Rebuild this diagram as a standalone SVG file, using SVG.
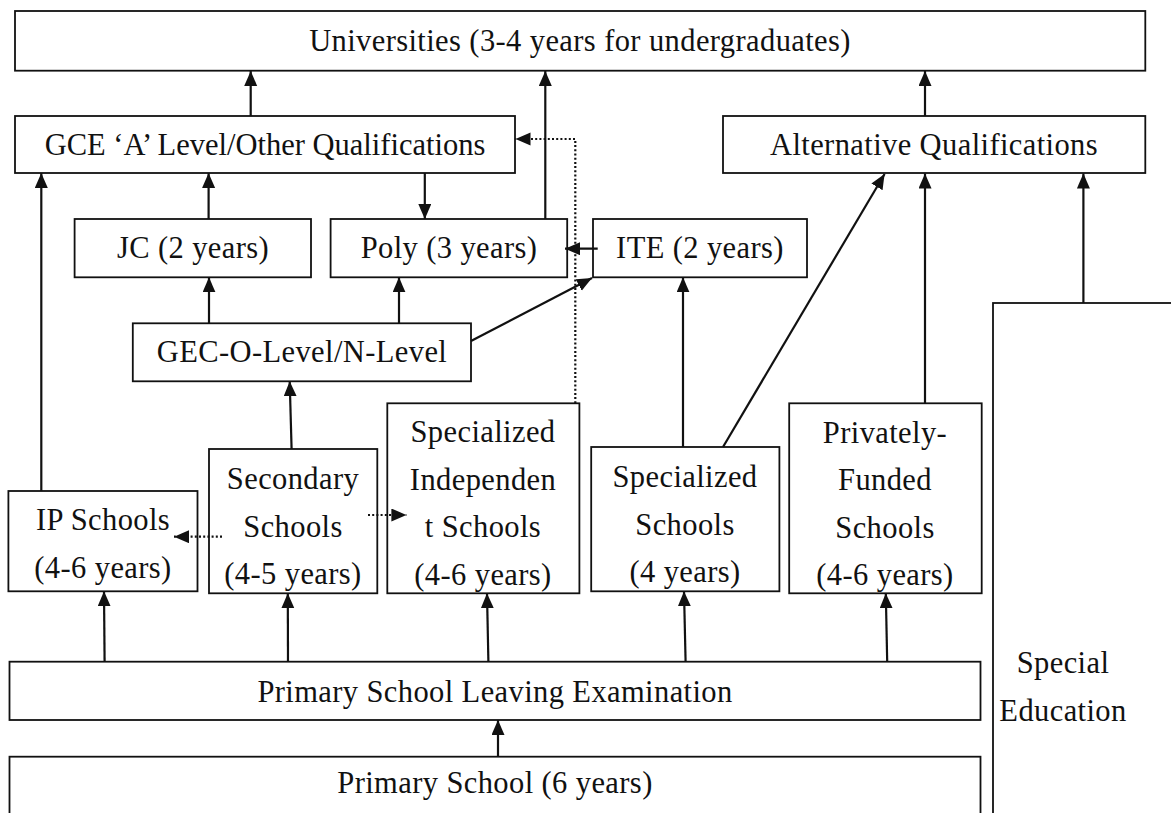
<svg xmlns="http://www.w3.org/2000/svg" width="1171" height="813" viewBox="0 0 1171 813">
<defs>
<style>
.box{fill:#fff;stroke:#111;stroke-width:1.8}
.t{font-size:30.5px;letter-spacing:0.4px;fill:#111;text-anchor:middle}
.c{fill:none;stroke:#111;stroke-width:2.2}
.d{fill:none;stroke:#111;stroke-width:2.2;stroke-dasharray:2 2.2}
</style>
<marker id="ah" markerUnits="userSpaceOnUse" markerWidth="16" markerHeight="14" refX="15" refY="6.5" orient="auto">
<path d="M0,0 L15,6.5 L0,13 z" fill="#111"/>
</marker>
</defs>
<rect width="1171" height="813" fill="#fff"/>
<g id="nodes" font-family="'Liberation Serif', 'DejaVu Serif', serif">
<g id="universities"><rect class="box" x="15" y="11" width="1130.3" height="59.7"/><text class="t" x="580" y="51">Universities (3-4 years for undergraduates)</text></g>
<g id="gce"><rect class="box" x="15" y="116" width="500" height="57"/><text class="t" x="265" y="155" style="letter-spacing:0">GCE ‘A’ Level/Other Qualifications</text></g>
<g id="alt"><rect class="box" x="723" y="116" width="422.3" height="57"/><text class="t" x="934" y="155">Alternative Qualifications</text></g>
<g id="jc"><rect class="box" x="74.6" y="219" width="236.4" height="58.3"/><text class="t" x="193" y="258">JC (2 years)</text></g>
<g id="poly"><rect class="box" x="330.6" y="219" width="236.6" height="58.3"/><text class="t" x="449" y="258">Poly (3 years)</text></g>
<g id="ite"><rect class="box" x="593" y="219" width="214" height="58.3"/><text class="t" x="700" y="258">ITE (2 years)</text></g>
<g id="gec"><rect class="box" x="132.8" y="323.3" width="338.2" height="58"/><text class="t" x="302" y="362">GEC-O-Level/N-Level</text></g>
<g id="ip"><rect class="box" x="8.4" y="491" width="189.1" height="100.3"/><text class="t" x="103" y="530">IP Schools</text><text class="t" x="103" y="578">(4-6 years)</text></g>
<g id="secondary"><rect class="box" x="209" y="449" width="168.3" height="144.3"/><text class="t" x="293" y="489">Secondary</text><text class="t" x="293" y="537">Schools</text><text class="t" x="293" y="584">(4-5 years)</text></g>
<g id="spec-indep"><rect class="box" x="387.3" y="403.3" width="192.1" height="190"/><text class="t" x="483" y="442">Specialized</text><text class="t" x="483" y="490">Independen</text><text class="t" x="483" y="537">t Schools</text><text class="t" x="483" y="585">(4-6 years)</text></g>
<g id="spec-schools"><rect class="box" x="591.2" y="447" width="188.2" height="144.3"/><text class="t" x="685" y="487">Specialized</text><text class="t" x="685" y="535">Schools</text><text class="t" x="685" y="582">(4 years)</text></g>
<g id="private"><rect class="box" x="789.2" y="403.3" width="192.5" height="190"/><text class="t" x="885" y="443">Privately-</text><text class="t" x="885" y="490">Funded</text><text class="t" x="885" y="538">Schools</text><text class="t" x="885" y="585">(4-6 years)</text></g>
<g id="psle"><rect class="box" x="9.5" y="661.7" width="971" height="58.3"/><text class="t" x="495" y="702">Primary School Leaving Examination</text></g>
<g id="primary"><rect class="box" x="9.5" y="756.7" width="971" height="80"/><text class="t" x="495" y="793">Primary School (6 years)</text></g>
<g id="special"><rect class="box" x="993" y="303" width="240" height="560"/><text class="t" x="1063" y="673">Special</text><text class="t" x="1063" y="721">Education</text></g>
</g>
<g id="connectors">
<line class="c" x1="250.7" y1="116" x2="250.7" y2="71" marker-end="url(#ah)"/>
<line class="c" x1="545.3" y1="219" x2="545.3" y2="71" marker-end="url(#ah)"/>
<line class="c" x1="925" y1="116" x2="925" y2="71" marker-end="url(#ah)"/>
<line class="c" x1="424.8" y1="173" x2="424.8" y2="219" marker-end="url(#ah)"/>
<line class="c" x1="208.6" y1="219" x2="208.6" y2="173" marker-end="url(#ah)"/>
<line class="c" x1="41.3" y1="491" x2="41.3" y2="173" marker-end="url(#ah)"/>
<line class="c" x1="209" y1="323.3" x2="209" y2="277.3" marker-end="url(#ah)"/>
<line class="c" x1="399" y1="323.3" x2="399" y2="277.3" marker-end="url(#ah)"/>
<line class="c" x1="471" y1="341" x2="592" y2="278" marker-end="url(#ah)"/>
<line class="c" x1="597.7" y1="248.7" x2="565" y2="248.7" marker-end="url(#ah)"/>
<line class="c" x1="683" y1="447" x2="683" y2="277.3" marker-end="url(#ah)"/>
<line class="c" x1="723" y1="447" x2="884.6" y2="174" marker-end="url(#ah)"/>
<line class="c" x1="925" y1="403.3" x2="925" y2="173.5" marker-end="url(#ah)"/>
<line class="c" x1="1083.4" y1="303" x2="1083.4" y2="173.5" marker-end="url(#ah)"/>
<line class="c" x1="291.6" y1="449" x2="289.7" y2="381.3" marker-end="url(#ah)"/>
<polyline class="d" points="575.3,403.3 575.3,139 515.5,139" marker-end="url(#ah)"/>
<line class="d" x1="222" y1="536.7" x2="174" y2="536.7" marker-end="url(#ah)"/>
<line class="d" x1="368" y1="515" x2="406.4" y2="515" marker-end="url(#ah)"/>
<line class="c" x1="104.6" y1="661.7" x2="104" y2="591.3" marker-end="url(#ah)"/>
<line class="c" x1="288" y1="661.7" x2="287.8" y2="593.3" marker-end="url(#ah)"/>
<line class="c" x1="488.4" y1="661.7" x2="487" y2="593.3" marker-end="url(#ah)"/>
<line class="c" x1="685.6" y1="661.7" x2="684" y2="591.3" marker-end="url(#ah)"/>
<line class="c" x1="887.2" y1="661.7" x2="885.8" y2="593.3" marker-end="url(#ah)"/>
<line class="c" x1="498" y1="756.7" x2="498" y2="720" marker-end="url(#ah)"/>
</g>
</svg>
